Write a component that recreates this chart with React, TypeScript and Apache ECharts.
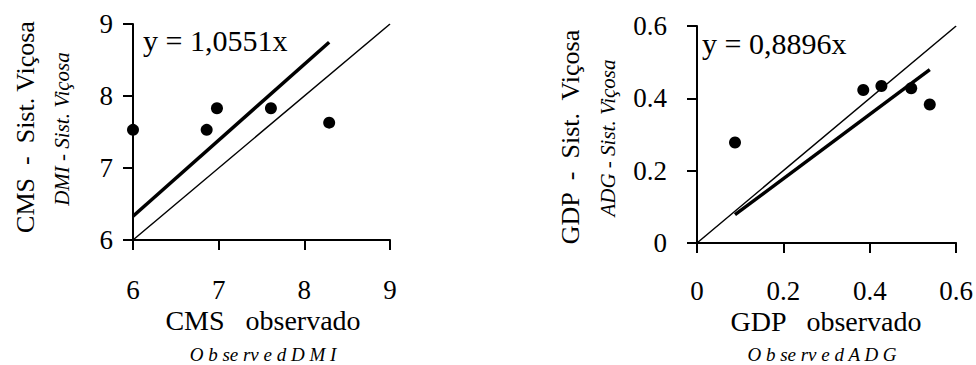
import React, { useEffect, useRef } from "react";
import * as echarts from "echarts";

// ---- Data ----
const cmsObserved = [6.0, 6.86, 6.98, 7.61, 8.29];
const cmsSimulated = [7.53, 7.53, 7.83, 7.83, 7.63];
const cmsSlope = 1.0551;
const cmsTicks = [6, 7, 8, 9];

const gdpObserved = [0.088, 0.385, 0.427, 0.496, 0.539];
const gdpSimulated = [0.278, 0.423, 0.434, 0.428, 0.383];
const gdpSlope = 0.8896;
const gdpTicks = [0, 0.2, 0.4, 0.6];

const FONT = "Liberation Serif";

function pairs(xs: number[], ys: number[]) {
  return xs.map((x, i) => [x, ys[i]]);
}
function regLine(xs: number[], slope: number) {
  const lo = Math.min(...xs);
  const hi = Math.max(...xs);
  return [
    [lo, slope * lo],
    [hi, slope * hi],
  ];
}
function idLine(ticks: number[]) {
  const a = ticks[0];
  const b = ticks[ticks.length - 1];
  return [
    [a, a],
    [b, b],
  ];
}

function axisBase(ticks: number[], gridIndex: number, labelMargin: number) {
  return {
    type: "value" as const,
    gridIndex,
    min: ticks[0],
    max: ticks[ticks.length - 1],
    interval: ticks[1] - ticks[0],
    splitLine: { show: false },
    axisLine: { show: true, onZero: false, lineStyle: { color: "#000", width: 2 } },
    axisTick: { show: true, inside: false, length: 10, lineStyle: { color: "#000", width: 2 } },
    axisLabel: {
      color: "#000",
      fontSize: 27,
      fontFamily: FONT,
      margin: labelMargin,
      formatter: (v: number) => "{t|" + String(Math.round(v * 10) / 10) + "}",
      rich: {
        t: { fontFamily: FONT, fontSize: 27, color: "#000", lineHeight: 27 },
      },
    },
  };
}

function txt(
  text: string,
  x: number,
  y: number,
  size: number,
  opts: { italic?: boolean; rotate?: boolean; align?: string } = {}
) {
  return {
    type: "text",
    x,
    y,
    rotation: opts.rotate ? Math.PI / 2 : 0,
    style: {
      text,
      fill: "#000",
      fontFamily: FONT,
      fontSize: size,
      fontStyle: opts.italic ? "italic" : "normal",
      align: opts.align || "center",
      verticalAlign: "middle",
    },
  };
}

export default function App() {
  const ref = useRef<HTMLDivElement>(null);
  useEffect(() => {
    if (!ref.current) return;
    const chart = echarts.init(ref.current, null, { renderer: "svg" });
    const dot = { color: "#000", opacity: 1 };
    chart.setOption({
      animation: false,
      backgroundColor: "#fff",
      textStyle: { fontFamily: FONT, color: "#000" },
      grid: [
        { left: 133, top: 24, width: 257, height: 216 },
        { left: 697, top: 26, width: 260, height: 217 },
      ],
      xAxis: [axisBase(cmsTicks, 0, 36), axisBase(gdpTicks, 1, 34)],
      yAxis: [axisBase(cmsTicks, 0, 20), axisBase(gdpTicks, 1, 30)],
      series: [
        {
          type: "line",
          xAxisIndex: 0,
          yAxisIndex: 0,
          data: idLine(cmsTicks),
          symbol: "none",
          lineStyle: { color: "#000", width: 1.5 },
        },
        {
          type: "line",
          xAxisIndex: 0,
          yAxisIndex: 0,
          data: regLine(cmsObserved, cmsSlope),
          symbol: "none",
          lineStyle: { color: "#000", width: 3.5 },
        },
        {
          type: "scatter",
          xAxisIndex: 0,
          yAxisIndex: 0,
          data: pairs(cmsObserved, cmsSimulated),
          symbolSize: 12,
          itemStyle: dot,
        },
        {
          type: "line",
          xAxisIndex: 1,
          yAxisIndex: 1,
          data: idLine(gdpTicks),
          symbol: "none",
          lineStyle: { color: "#000", width: 1.5 },
        },
        {
          type: "line",
          xAxisIndex: 1,
          yAxisIndex: 1,
          data: regLine(gdpObserved, gdpSlope),
          symbol: "none",
          lineStyle: { color: "#000", width: 3.5 },
        },
        {
          type: "scatter",
          xAxisIndex: 1,
          yAxisIndex: 1,
          data: pairs(gdpObserved, gdpSimulated),
          symbolSize: 12,
          itemStyle: dot,
        },
      ],
      graphic: [
        txt("y = 1,0551x", 143, 40, 30, { align: "left" }),
        txt("y = 0,8896x", 702, 43, 30, { align: "left" }),
        txt("CMS   observado", 263, 320, 28),
        txt("O b se rv e d D M I", 263, 354, 19, { italic: true }),
        txt("GDP   observado", 826, 321, 28),
        txt("O b se rv e d A D G", 822, 354, 19, { italic: true }),
        txt("CMS  -  Sist. Viçosa", 25, 127, 26, { rotate: true }),
        txt("DMI - Sist. Viçosa", 62, 129, 21, { italic: true, rotate: true }),
        txt("GDP  -  Sist.  Viçosa", 570, 137, 26, { rotate: true }),
        txt("ADG - Sist. Viçosa", 608, 138, 21, { italic: true, rotate: true }),
      ],
    });
    return () => chart.dispose();
  }, []);
  return (
    <div
      ref={ref}
      style={{ position: "fixed", left: 0, top: 0, width: 976, height: 365, background: "#fff" }}
    />
  );
}
